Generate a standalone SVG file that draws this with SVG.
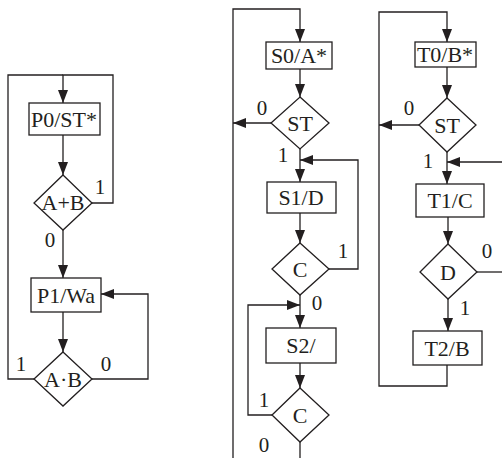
<svg xmlns="http://www.w3.org/2000/svg" width="502" height="458" viewBox="0 0 502 458">
<defs>
<marker id="ah" markerUnits="userSpaceOnUse" markerWidth="14" markerHeight="11" refX="13" refY="5" orient="auto">
<path d="M0,0 L13,5 L0,10 z" fill="#231f20"/>
</marker>
<style>
.b{fill:#fff;stroke:#231f20;stroke-width:1.3}
.c{fill:none;stroke:#231f20;stroke-width:1.3}
.a{marker-end:url(#ah)}
text{font-family:"Liberation Serif","Times New Roman",serif;fill:#231f20;text-anchor:middle}
.t{font-size:22px}
.l{font-size:21px}
</style>
</defs>
<rect width="502" height="458" fill="#fff"/>
<g id="connectors">
<path class="c a" d="M92,203 H113 V75 H63 V103"/>
<path class="c" d="M34,379 H8 V75 H63"/>
<path class="c a" d="M63,135 V175"/>
<path class="c a" d="M63,230 V278"/>
<path class="c a" d="M63,312 V352"/>
<path class="c a" d="M92,379 H148 V294 H101"/>
<path class="c a" d="M233,458 V9 H300 V42"/>
<path class="c a" d="M300,69 V97"/>
<path class="c a" d="M271,123 H233"/>
<path class="c a" d="M300,149 V182"/>
<path class="c a" d="M329,269 H358 V160 H300"/>
<path class="c a" d="M300,213 V243"/>
<path class="c a" d="M300,295 V328"/>
<path class="c a" d="M272,415 H248 V305 H300"/>
<path class="c a" d="M300,363 V388"/>
<path class="c" d="M300,442 V458"/>
<path class="c a" d="M447,365 V386 H379 V12 H447 V42"/>
<path class="c a" d="M447,67 V98"/>
<path class="c a" d="M419,125 H379"/>
<path class="c a" d="M447,152 V184"/>
<path class="c a" d="M502,162 H447"/>
<path class="c a" d="M448,217 V244"/>
<path class="c" d="M477,272 H502"/>
<path class="c a" d="M448,299 V331"/>
</g>
<g id="P0"><rect class="b" x="29" y="103" width="71" height="32"/><text class="t" x="64" y="127">P0/ST*</text></g>
<g id="dAB1"><polygon class="b" points="63,175 92,203 63,230 34,203"/><text class="t" x="63" y="210">A+B</text></g>
<g id="P1"><rect class="b" x="31" y="278" width="70" height="34"/><text class="t" x="66" y="303">P1/Wa</text></g>
<g id="dAB2"><polygon class="b" points="63,352 92,379 63,406 34,379"/><text class="t" x="63" y="387">A·B</text></g>
<g id="labelsL">
<text class="l" x="100" y="194">1</text>
<text class="l" x="50" y="247">0</text>
<text class="l" x="21" y="371">1</text>
<text class="l" x="106" y="371">0</text>
</g>
<g id="S0"><rect class="b" x="266" y="42" width="66" height="27"/><text class="t" x="299" y="63">S0/A*</text></g>
<g id="dST1"><polygon class="b" points="300,97 329,123 300,149 271,123"/><text class="t" x="300" y="131">ST</text></g>
<g id="S1"><rect class="b" x="267" y="182" width="69" height="31"/><text class="t" x="301" y="205">S1/D</text></g>
<g id="dC1"><polygon class="b" points="300,243 329,269 300,295 272,269"/><text class="t" x="300" y="277">C</text></g>
<g id="S2"><rect class="b" x="266" y="328" width="70" height="35"/><text class="t" x="301" y="353">S2/</text></g>
<g id="dC2"><polygon class="b" points="300,388 329,415 300,442 272,415"/><text class="t" x="300" y="423">C</text></g>
<g id="labelsM">
<text class="l" x="262" y="115">0</text>
<text class="l" x="283" y="162">1</text>
<text class="l" x="343" y="258">1</text>
<text class="l" x="317" y="310">0</text>
<text class="l" x="264" y="407">1</text>
<text class="l" x="264" y="452">0</text>
</g>
<g id="T0"><rect class="b" x="415" y="42" width="61" height="25"/><text class="t" x="445" y="62">T0/B*</text></g>
<g id="dST2"><polygon class="b" points="447,98 476,125 447,152 419,125"/><text class="t" x="447" y="133">ST</text></g>
<g id="T1"><rect class="b" x="416" y="184" width="68" height="33"/><text class="t" x="450" y="208">T1/C</text></g>
<g id="dD"><polygon class="b" points="448,244 477,272 448,299 420,272"/><text class="t" x="448" y="280">D</text></g>
<g id="T2"><rect class="b" x="413" y="331" width="69" height="34"/><text class="t" x="447" y="356">T2/B</text></g>
<g id="labelsR">
<text class="l" x="409" y="115">0</text>
<text class="l" x="428" y="168">1</text>
<text class="l" x="487" y="258">0</text>
<text class="l" x="465" y="315">1</text>
</g>
</svg>
